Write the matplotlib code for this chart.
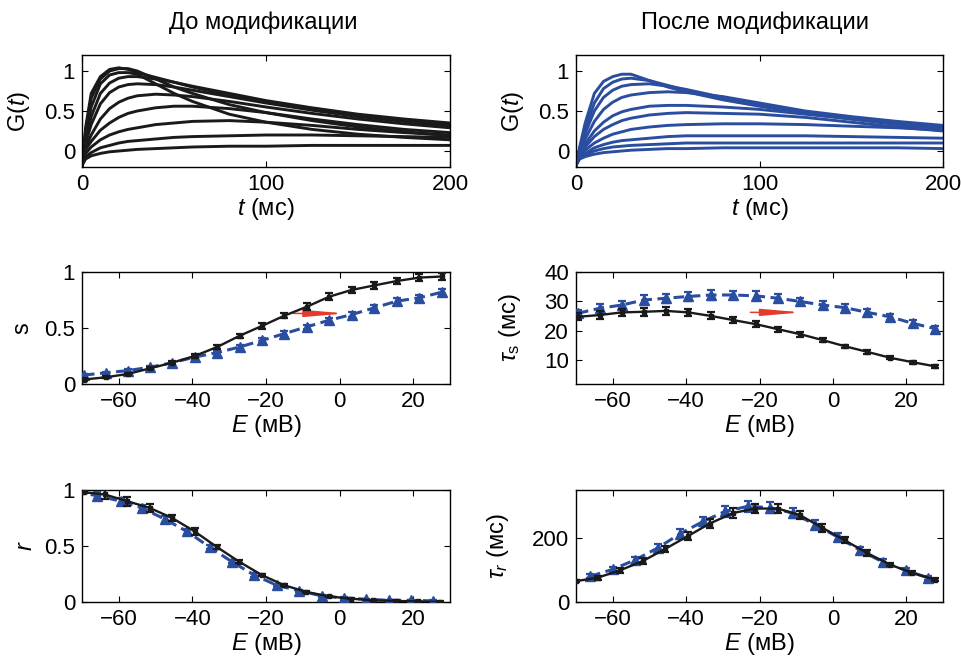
import matplotlib
matplotlib.use("Agg")
import matplotlib.pyplot as plt
from matplotlib import font_manager

plt.rcParams["font.family"] = ["Liberation Sans", "DejaVu Sans"]
plt.rcParams["mathtext.fontset"] = "custom"
plt.rcParams["mathtext.rm"] = "Liberation Sans"
plt.rcParams["mathtext.it"] = "Liberation Sans:italic"
plt.rcParams["mathtext.bf"] = "Liberation Sans:bold"
plt.rcParams["font.size"] = 16

BLACK = "#1a1a1a"
BLUE = "#2a4d9f"
RED = "#e53b2b"
TICK_FS = 16
LABEL_FS = 17

# ---------------- conductance traces G(t) ----------------
t_ms = [0, 2, 5, 10, 15, 20, 25, 30, 40, 50, 60, 80, 100, 125, 150, 175, 200]

g_before = [
    [-0.18, 0.30, 0.72, 0.93, 1.02, 1.04, 1.02, 0.98, 0.92, 0.86, 0.80, 0.70, 0.61, 0.52, 0.44, 0.38, 0.33],
    [-0.18, 0.26, 0.66, 0.90, 1.00, 1.03, 1.03, 1.00, 0.90, 0.80, 0.72, 0.58, 0.48, 0.38, 0.30, 0.24, 0.19],
    [-0.18, 0.20, 0.55, 0.84, 0.95, 0.98, 0.98, 0.96, 0.84, 0.72, 0.62, 0.46, 0.36, 0.27, 0.21, 0.17, 0.14],
    [-0.18, 0.14, 0.43, 0.72, 0.85, 0.91, 0.93, 0.93, 0.90, 0.86, 0.81, 0.72, 0.63, 0.54, 0.46, 0.40, 0.35],
    [-0.18, 0.10, 0.33, 0.59, 0.73, 0.80, 0.83, 0.84, 0.83, 0.80, 0.76, 0.68, 0.60, 0.51, 0.43, 0.37, 0.31],
    [-0.18, 0.05, 0.20, 0.40, 0.53, 0.61, 0.66, 0.69, 0.71, 0.70, 0.68, 0.62, 0.55, 0.47, 0.40, 0.34, 0.29],
    [-0.18, 0.02, 0.12, 0.26, 0.35, 0.42, 0.47, 0.50, 0.54, 0.56, 0.56, 0.53, 0.48, 0.40, 0.33, 0.27, 0.23],
    [-0.18, -0.03, 0.05, 0.14, 0.20, 0.24, 0.27, 0.29, 0.33, 0.35, 0.37, 0.38, 0.36, 0.32, 0.27, 0.23, 0.20],
    [-0.18, -0.07, -0.02, 0.04, 0.07, 0.10, 0.12, 0.13, 0.15, 0.17, 0.18, 0.19, 0.20, 0.20, 0.19, 0.18, 0.17],
    [-0.18, -0.10, -0.06, -0.03, -0.01, 0.00, 0.01, 0.02, 0.03, 0.04, 0.05, 0.06, 0.06, 0.07, 0.07, 0.07, 0.07],
]

g_after = [
    [-0.18, 0.05, 0.35, 0.72, 0.87, 0.93, 0.96, 0.96, 0.88, 0.80, 0.74, 0.64, 0.56, 0.47, 0.40, 0.34, 0.29],
    [-0.18, 0.03, 0.28, 0.60, 0.78, 0.86, 0.90, 0.91, 0.88, 0.82, 0.76, 0.65, 0.57, 0.48, 0.41, 0.35, 0.30],
    [-0.18, 0.02, 0.22, 0.50, 0.67, 0.76, 0.81, 0.83, 0.84, 0.81, 0.77, 0.67, 0.58, 0.49, 0.41, 0.35, 0.30],
    [-0.18, 0.00, 0.15, 0.37, 0.52, 0.61, 0.67, 0.70, 0.73, 0.74, 0.73, 0.68, 0.60, 0.50, 0.43, 0.37, 0.32],
    [-0.18, -0.02, 0.09, 0.25, 0.36, 0.44, 0.49, 0.52, 0.56, 0.57, 0.57, 0.55, 0.52, 0.46, 0.40, 0.33, 0.28],
    [-0.18, -0.04, 0.05, 0.18, 0.27, 0.33, 0.38, 0.41, 0.45, 0.47, 0.48, 0.47, 0.46, 0.42, 0.36, 0.30, 0.25],
    [-0.18, -0.06, 0.01, 0.10, 0.16, 0.21, 0.24, 0.27, 0.30, 0.32, 0.33, 0.34, 0.34, 0.33, 0.31, 0.29, 0.26],
    [-0.18, -0.08, -0.03, 0.04, 0.08, 0.11, 0.13, 0.14, 0.16, 0.18, 0.19, 0.19, 0.19, 0.19, 0.18, 0.17, 0.16],
    [-0.18, -0.09, -0.05, 0.00, 0.03, 0.05, 0.06, 0.07, 0.08, 0.09, 0.10, 0.10, 0.10, 0.10, 0.10, 0.10, 0.10],
    [-0.18, -0.10, -0.07, -0.04, -0.02, -0.01, 0.00, 0.01, 0.02, 0.03, 0.03, 0.04, 0.04, 0.04, 0.04, 0.04, 0.03],
]

# ---------------- voltage dependences ----------------
E_mv = [-69.5, -63.5, -57.5, -51.5, -45.5, -39.4, -33.3, -27.2, -21.0, -15.0,
        -8.9, -2.8, 3.3, 9.4, 15.6, 21.7, 27.8]

s_before = [0.04, 0.06, 0.09, 0.14, 0.19, 0.25, 0.33, 0.43, 0.52, 0.61,
            0.69, 0.78, 0.84, 0.88, 0.92, 0.95, 0.96]
s_before_err = [0.01, 0.01, 0.01, 0.01, 0.015, 0.015, 0.02, 0.02, 0.025, 0.025,
                0.03, 0.03, 0.03, 0.03, 0.03, 0.03, 0.03]
s_after = [0.08, 0.10, 0.12, 0.15, 0.19, 0.24, 0.28, 0.33, 0.39, 0.45,
           0.51, 0.57, 0.62, 0.68, 0.74, 0.77, 0.82]
s_after_err = [0.01, 0.01, 0.01, 0.01, 0.01, 0.015, 0.015, 0.015, 0.02, 0.02,
               0.02, 0.02, 0.02, 0.025, 0.025, 0.025, 0.025]

tau_s_before = [24.8, 25.4, 26.3, 26.5, 26.8, 26.3, 25.1, 23.7, 22.3, 20.6,
                18.9, 16.9, 14.8, 12.9, 10.9, 9.4, 8.0]
tau_s_before_err = [1.2, 1.3, 1.3, 1.3, 1.4, 1.3, 1.2, 1.1, 1.0, 0.9,
                    0.8, 0.7, 0.6, 0.6, 0.5, 0.5, 0.5]
tau_s_after = [26.0, 27.7, 28.8, 30.5, 31.1, 31.7, 32.2, 32.2, 31.9, 31.1,
               30.0, 28.8, 27.9, 26.3, 24.8, 22.6, 20.8]
tau_s_after_err = [1.0, 1.5, 1.5, 1.6, 1.6, 1.6, 1.6, 1.5, 1.5, 1.4,
                   1.3, 1.2, 1.1, 1.1, 1.0, 1.0, 1.0]

E_r_before = [-69.5, -63.8, -57.7, -51.6, -45.5, -39.4, -33.3, -27.3, -21.1, -15.1,
              -9.0, -2.9, 3.0, 9.1, 15.2, 21.3, 27.4]
r_before = [0.98, 0.96, 0.90, 0.84, 0.75, 0.63, 0.49, 0.36, 0.24, 0.15,
            0.09, 0.05, 0.03, 0.015, 0.01, 0.005, 0.0]
r_before_err = [0.01, 0.04, 0.04, 0.035, 0.03, 0.03, 0.02, 0.015, 0.01, 0.01,
                0.01, 0.005, 0.005, 0.005, 0.005, 0.005, 0.005]
E_r_after = [-72.0, -65.9, -59.5, -53.7, -47.5, -41.5, -35.3, -29.3, -23.2, -17.1,
             -11.0, -4.9, 1.2, 7.2, 13.4, 19.4, 25.5]
r_after = [0.98, 0.95, 0.90, 0.84, 0.74, 0.63, 0.49, 0.36, 0.24, 0.15,
           0.10, 0.055, 0.035, 0.025, 0.015, 0.015, 0.01]
r_after_err = [0.02, 0.03, 0.03, 0.03, 0.025, 0.025, 0.02, 0.015, 0.015, 0.01,
               0.01, 0.01, 0.01, 0.005, 0.005, 0.005, 0.005]

E_tr_before = [-70.1, -64.1, -58.0, -51.8, -45.7, -39.5, -33.6, -27.2, -21.2, -15.0,
               -8.9, -2.9, 3.2, 9.3, 15.5, 21.6, 27.7]
tau_r_before = [65, 76, 99, 128, 166, 206, 245, 278, 292, 292,
                271, 232, 193, 153, 117, 91, 70]
tau_r_before_err = [4, 6, 7, 8, 10, 12, 13, 15, 15, 15, 13, 12, 10, 8, 6, 5, 4]
E_tr_after = [-66.2, -60.0, -53.8, -47.7, -41.7, -35.3, -29.4, -23.2, -17.1,
              -11.0, -4.8, 1.3, 7.5, 13.6, 19.9, 25.8]
tau_r_after = [80, 102, 132, 169, 213, 252, 283, 299, 295, 278,
               242, 203, 161, 125, 99, 76]
tau_r_after_err = [6, 8, 10, 12, 14, 15, 16, 18, 17, 16, 14, 12, 10, 8, 7, 6]

titles = ["До модификации", "После модификации"]
t_ticks = [0, 100, 200]
E_ticks = [-60, -40, -20, 0, 20]

W, H = 961, 658
fig = plt.figure(figsize=(W / 100, H / 100), dpi=100)


def add_axes(left, top, right, bottom):
    return fig.add_axes([left / W, 1 - bottom / H, (right - left) / W, (bottom - top) / H])


def style(ax):
    ax.tick_params(direction="in", top=True, right=True, length=4, width=0.8,
                   labelsize=TICK_FS, pad=5)
    for sp in ax.spines.values():
        sp.set_linewidth(1.0)


ax_g0 = add_axes(82, 55, 450, 167)
ax_g1 = add_axes(576, 55, 943, 167)
ax_s = add_axes(82, 272, 450, 384)
ax_ts = add_axes(576, 272, 943, 384)
ax_r = add_axes(82, 490, 450, 602)
ax_tr = add_axes(576, 490, 943, 602)

# conductance families
for ax, traces, col in [(ax_g0, g_before, BLACK), (ax_g1, g_after, BLUE)]:
    for tr in traces:
        ax.plot(t_ms, tr, color=col, lw=2.1, solid_joinstyle="round")
    ax.set_xlim(0, 200)
    ax.set_ylim(-0.2, 1.2)
    ax.set_xticks(t_ticks)
    ax.set_yticks([0, 0.5, 1])
    ax.set_yticklabels(["0", "0.5", "1"])
    ax.set_xlabel(r"$t$ (мс)", fontsize=LABEL_FS, labelpad=1)
    ax.set_ylabel(r"G($t$)", fontsize=LABEL_FS, labelpad=9)
    style(ax)


def curve(ax, x, y, err, col, dashed):
    if dashed:
        ax.plot(x, y, color=col, lw=2.2, ls=(0, (3.5, 1.8)), zorder=2)
        ax.errorbar(x, y, yerr=err, fmt="^", color=col, ms=7, capsize=3,
                    elinewidth=1.6, capthick=1.6, zorder=3)
    else:
        ax.plot(x, y, color=col, lw=1.7, zorder=4)
        ax.errorbar(x, y, yerr=err, fmt="s", color=col, ms=3.5, capsize=3,
                    elinewidth=1.6, capthick=1.6, zorder=5)


arrow_style = dict(arrowstyle="-|>,head_length=1.5,head_width=0.13",
                   color=RED, lw=1.1, shrinkA=0, shrinkB=0)

# activation
curve(ax_s, E_mv, s_after, s_after_err, BLUE, True)
curve(ax_s, E_mv, s_before, s_before_err, BLACK, False)
ax_s.set_ylim(0, 1)
ax_s.set_yticks([0, 0.5, 1])
ax_s.set_yticklabels(["0", "0.5", "1"])
ax_s.set_ylabel("s", fontsize=LABEL_FS, labelpad=8)
ax_s.annotate("", xy=(1.5, 0.63), xytext=(-12.5, 0.63), arrowprops=arrow_style)

curve(ax_ts, E_mv, tau_s_after, tau_s_after_err, BLUE, True)
curve(ax_ts, E_mv, tau_s_before, tau_s_before_err, BLACK, False)
ax_ts.set_ylim(2, 40)
ax_ts.set_yticks([10, 20, 30, 40])
ax_ts.set_ylabel(r"$\tau_{\mathrm{s}}$ (мс)", fontsize=LABEL_FS, labelpad=15)
ax_ts.annotate("", xy=(-8.5, 26.3), xytext=(-22.5, 26.3), arrowprops=arrow_style)

# inactivation
curve(ax_r, E_r_after, r_after, r_after_err, BLUE, True)
curve(ax_r, E_r_before, r_before, r_before_err, BLACK, False)
ax_r.set_ylim(0, 1)
ax_r.set_yticks([0, 0.5, 1])
ax_r.set_yticklabels(["0", "0.5", "1"])
ax_r.set_ylabel(r"$r$", fontsize=LABEL_FS, labelpad=5)

curve(ax_tr, E_tr_after, tau_r_after, tau_r_after_err, BLUE, True)
curve(ax_tr, E_tr_before, tau_r_before, tau_r_before_err, BLACK, False)
ax_tr.set_ylim(0, 350)
ax_tr.set_yticks([0, 200])
ax_tr.set_ylabel(r"$\tau_r$ (мс)", fontsize=LABEL_FS, labelpad=15)

for ax in (ax_s, ax_ts, ax_r, ax_tr):
    ax.set_xlim(-70, 30)
    ax.set_xticks(E_ticks)
    ax.set_xlabel(r"$E$ (мВ)", fontsize=LABEL_FS, labelpad=1)
    style(ax)

narrow = "Liberation Sans Narrow"
try:
    font_manager.findfont(narrow, fallback_to_default=False)
    title_family = [narrow, "Liberation Sans"]
    title_fs = 19
except Exception:
    title_family = ["Liberation Sans"]
    title_fs = 17
fig.text(263 / W, 1 - 23 / H, titles[0], ha="center", va="center", fontsize=title_fs,
         family=title_family)
fig.text(755 / W, 1 - 23 / H, titles[1], ha="center", va="center", fontsize=title_fs,
         family=title_family)

fig.savefig("out.png", dpi=100)
